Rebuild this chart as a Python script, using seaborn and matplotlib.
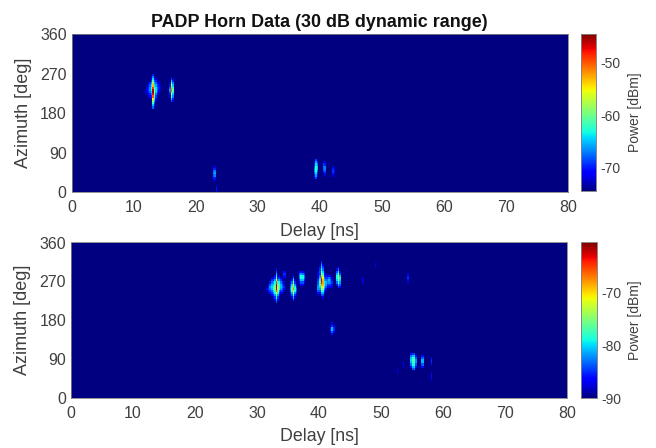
import numpy as np
import matplotlib.pyplot as plt
import seaborn as sns

plt.rcParams['font.family'] = ['Liberation Sans', 'DejaVu Sans']
plt.rcParams['axes.unicode_minus'] = False

delay_step = 0.25
az_step = 5
delay_ticks = [0, 10, 20, 30, 40, 50, 60, 70, 80]
az_ticks = [0, 90, 180, 270, 360]

# top panel: each column is delay, first azimuth, powers going up in 5 deg steps
top_delay = [11.75, 12.0, 12.25, 12.5, 12.75, 13.0, 13.25, 13.5, 13.75, 14.0, 14.25,
             15.75, 16.0, 16.25,
             22.75, 23.0, 23.25,
             39.0, 39.25, 39.5, 40.5, 40.75, 42.0, 42.25]
top_az0 = [220, 220, 215, 215, 205, 190, 190, 205, 215, 220, 225,
           215, 205, 205,
           25, 25, 0,
           30, 30, 35, 40, 35, 35, 35]
top_power = [
    [-74, -73, -74],
    [-73, -72, -71, -72, -73],
    [-72, -71, -70, -69, -70, -71, -72],
    [-71, -70, -68, -67, -67, -68, -70],
    [-73, -72, -70, -67, -65, -63, -62, -64, -66, -69, -71, -73],
    [-68, -65, -62, -59, -55, -50, -47, -45, -46, -49, -53, -58, -61, -64, -67, -70],
    [-72, -70, -68, -66, -64, -62, -59, -58, -59, -61, -64, -66, -68, -70, -72],
    [-72, -71, -69, -67, -65, -64, -64, -66, -68, -70, -72],
    [-73, -71, -69, -68, -68, -69, -71, -73],
    [-73, -72, -71, -70, -71, -72, -73],
    [-74, -73, -72, -73, -74],
    [-72, -70, -68, -66, -68, -70, -72],
    [-69, -65, -60, -56, -52, -50, -52, -56, -60, -65, -69],
    [-72, -70, -67, -65, -62, -60, -62, -65, -67, -70, -72],
    [-72, -70, -68, -67, -68, -70, -72],
    [-72, -70, -67, -66, -67, -70, -72],
    [-71, -70, -72],
    [-72, -70, -68, -67, -67, -68, -70, -72],
    [-69, -66, -64, -63, -62, -62, -64, -66, -69],
    [-72, -70, -67, -65, -65, -67, -70, -72],
    [-72, -69, -68, -68, -69, -72],
    [-72, -70, -68, -67, -67, -70, -72],
    [-72, -70, -69, -70, -72],
    [-73, -72, -71, -72, -73],
]

# bottom panel, same layout
bot_delay = [31.5, 31.75, 32.0, 32.25, 32.5, 32.75, 33.0, 33.25, 33.5, 33.75, 34.0, 34.25,
             35.25, 35.5, 35.75, 36.0, 36.25,
             36.75, 37.0, 37.25, 37.5,
             34.25, 34.5,
             39.75, 40.0, 40.25, 40.5, 40.75, 41.0, 41.25, 41.5, 41.75, 42.0,
             42.75, 43.0, 43.25,
             41.75, 42.0, 42.25,
             54.75, 55.0, 55.25, 55.5, 56.5, 56.75, 58.0,
             54.25, 47.0, 49.0, 52.5, 53.5, 58.0]
bot_az0 = [245, 240, 240, 235, 230, 225, 220, 225, 235, 240, 240, 245,
           235, 230, 225, 230, 235,
           265, 260, 260, 265,
           275, 275,
           235, 240, 235, 230, 240, 245, 255, 255, 255, 255,
           260, 255, 255,
           150, 145, 150,
           70, 65, 65, 70, 70, 70, 75,
           265, 265, 300, 55, 70, 40]
bot_power = [
    [-89, -87, -89],
    [-88, -86, -85, -86, -88],
    [-86, -85, -83, -82, -84, -86],
    [-87, -85, -83, -81, -80, -81, -83, -85, -88],
    [-87, -85, -82, -80, -78, -78, -80, -82, -85, -87],
    [-86, -85, -82, -79, -77, -75, -75, -77, -79, -82, -85, -86],
    [-84, -82, -79, -75, -71, -66, -62, -61, -62, -65, -70, -75, -79, -81, -84, -87],
    [-87, -85, -82, -79, -76, -74, -74, -76, -79, -82, -85, -88],
    [-87, -85, -82, -79, -78, -78, -79, -82, -85, -87],
    [-87, -85, -82, -81, -81, -83, -85, -88],
    [-87, -85, -84, -83, -84, -85, -88],
    [-88, -86, -85, -86, -88],
    [-88, -86, -83, -82, -83, -85, -87],
    [-87, -84, -81, -79, -77, -78, -80, -83, -86],
    [-85, -81, -77, -73, -70, -67, -68, -71, -75, -79, -83, -86],
    [-88, -85, -82, -79, -78, -79, -82, -85, -88],
    [-88, -86, -84, -83, -85, -87, -88],
    [-87, -85, -83, -82, -84, -87],
    [-86, -84, -81, -79, -79, -82, -86],
    [-86, -84, -81, -79, -79, -83, -87],
    [-87, -85, -83, -83, -85, -88],
    [-88, -86, -85, -87],
    [-87, -86, -85, -87],
    [-88, -86, -84, -82, -82, -83, -84, -85, -87, -88, -87, -88],
    [-87, -84, -82, -80, -78, -78, -79, -81, -83, -85, -84, -85, -87],
    [-84, -81, -77, -74, -72, -68, -64, -62, -65, -69, -73, -77, -79, -80, -82, -84, -87],
    [-87, -84, -81, -78, -75, -72, -69, -68, -69, -71, -75, -78, -80, -83, -85, -87],
    [-87, -85, -82, -80, -78, -79, -81, -83, -85, -87, -88],
    [-88, -86, -84, -82, -81, -83, -85, -86, -88],
    [-87, -85, -83, -83, -85, -87],
    [-87, -85, -82, -81, -83, -86],
    [-87, -85, -83, -83, -85, -87],
    [-88, -86, -85, -86, -88],
    [-86, -83, -80, -79, -79, -81, -84, -87],
    [-85, -81, -77, -74, -73, -72, -75, -79, -83, -87],
    [-87, -84, -82, -80, -79, -81, -84, -87],
    [-87, -85, -86],
    [-86, -84, -81, -81, -85, -87],
    [-87, -85, -85, -87],
    [-86, -83, -81, -80, -81, -83, -86],
    [-84, -81, -79, -78, -77, -78, -81, -85],
    [-83, -80, -78, -77, -77, -78, -80, -84],
    [-86, -84, -82, -82, -84, -86],
    [-86, -84, -81, -81, -84, -86],
    [-86, -83, -81, -81, -83, -86],
    [-87, -85, -85, -87],
    [-88, -86, -85, -86, -88],
    [-88, -87, -88],
    [-88, -87, -88],
    [-88, -87, -88],
    [-88, -87, -88],
    [-88, -86, -86, -88],
]


def build_grid(delays, starts, powers, floor):
    grid = np.full((360 // az_step, int(80 / delay_step)), float(floor))
    for d, a0, col in zip(delays, starts, powers):
        j = int(round(d / delay_step))
        for k, p in enumerate(col):
            i = (a0 + k * az_step) // az_step
            grid[i, j] = max(grid[i, j], p)
    return grid


def draw_panel(ax, cax, grid, vmin, vmax, cticks, cunit):
    sns.heatmap(grid, ax=ax, cbar_ax=cax, cmap='jet', vmin=vmin, vmax=vmax,
                xticklabels=False, yticklabels=False, rasterized=True,
                cbar_kws={'ticks': cticks})
    ax.invert_yaxis()
    ax.set_xticks([d / delay_step for d in delay_ticks])
    ax.set_xticklabels(delay_ticks, rotation=0)
    ax.set_yticks([a / az_step for a in az_ticks])
    ax.set_yticklabels(az_ticks, rotation=0)
    ax.tick_params(length=0, colors='#404040', labelsize=11.5)
    ax.tick_params(axis='x', pad=6)
    ax.tick_params(axis='y', pad=3.5)
    ax.set_xlabel('Delay [ns]', fontsize=12.8, color='#404040', va='center')
    ax.xaxis.set_label_coords(0.5, -0.25)
    ax.set_ylabel('Azimuth [deg]', fontsize=13, color='#404040', va='center')
    ax.yaxis.set_label_coords(-0.097, 0.5)
    for s in ax.spines.values():
        s.set_visible(True)
        s.set_color('#808080')
        s.set_linewidth(0.6)
    cax.tick_params(length=0, colors='#404040', labelsize=10, pad=3.5)
    cax.set_ylabel(cunit, fontsize=10, color='#404040', va='center')
    cax.yaxis.set_label_coords(3.5, 0.5)
    for s in cax.spines.values():
        s.set_visible(True)
        s.set_color('#808080')
        s.set_linewidth(0.5)


W, H = 656, 448
fig = plt.figure(figsize=(W / 100, H / 100), dpi=100)
ax1 = fig.add_axes([71.5 / W, 1 - 192 / H, 496.5 / W, 158 / H])
cax1 = fig.add_axes([580.5 / W, 1 - 191 / H, 15.5 / W, 157 / H])
ax2 = fig.add_axes([71 / W, 1 - 398 / H, 496 / W, 155.5 / H])
cax2 = fig.add_axes([581 / W, 1 - 398 / H, 15.5 / W, 155.5 / H])

draw_panel(ax1, cax1, build_grid(top_delay, top_az0, top_power, -74.5),
           -74.5, -44.5, [-70, -60, -50], 'Power [dBm]')
draw_panel(ax2, cax2, build_grid(bot_delay, bot_az0, bot_power, -90),
           -90, -60.5, [-90, -80, -70], 'Power [dBm]')
ax1.set_title('PADP Horn Data (30 dB dynamic range)', fontsize=12.9, fontweight='bold',
              color='#111111', pad=5)

plt.savefig('out.png', dpi=100)
